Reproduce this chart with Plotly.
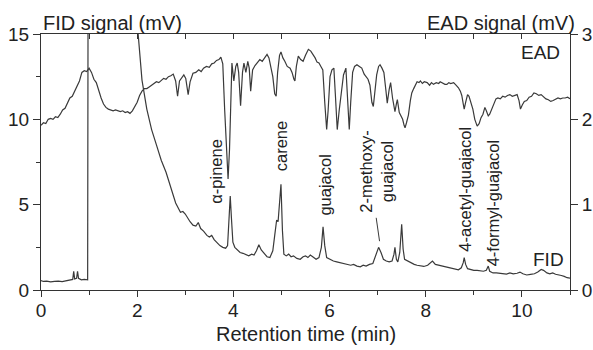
import plotly.graph_objects as go

# ---------------- data ----------------
fid_time = [0.00, 0.05, 0.12, 0.20, 0.28, 0.36, 0.44, 0.52, 0.60, 0.66, 0.68, 0.70, 0.74, 0.76, 0.78,
            0.84, 0.90, 0.97, 0.985, 1.5, 2.00, 2.02, 2.10, 2.20, 2.30, 2.40, 2.50, 2.60, 2.70, 2.80,
            2.90, 2.95, 3.00, 3.05, 3.10, 3.16, 3.22, 3.27, 3.32, 3.38, 3.45, 3.50, 3.55, 3.60, 3.66,
            3.72, 3.78, 3.84, 3.88, 3.91, 3.935, 3.96, 3.99, 4.03, 4.08, 4.14, 4.20, 4.26, 4.32, 4.38,
            4.43, 4.48, 4.53, 4.58, 4.63, 4.70, 4.76, 4.82, 4.86, 4.90, 4.93, 4.96, 4.99, 5.02, 5.05,
            5.10, 5.15, 5.20, 5.25, 5.32, 5.39, 5.45, 5.50, 5.55, 5.60, 5.65, 5.72, 5.78, 5.83, 5.865,
            5.90, 5.94, 6.00, 6.08, 6.15, 6.22, 6.30, 6.36, 6.44, 6.50, 6.57, 6.64, 6.70, 6.76, 6.83,
            6.90, 6.96, 7.02, 7.07, 7.12, 7.18, 7.24, 7.30, 7.34, 7.36, 7.39, 7.42, 7.46, 7.50, 7.53,
            7.56, 7.62, 7.70, 7.76, 7.82, 7.90, 7.96, 8.04, 8.10, 8.14, 8.20, 8.27, 8.34, 8.40, 8.48,
            8.55, 8.62, 8.68, 8.74, 8.78, 8.80, 8.83, 8.87, 8.93, 9.00, 9.07, 9.14, 9.20, 9.26, 9.30,
            9.33, 9.40, 9.47, 9.55, 9.62, 9.68, 9.75, 9.82, 9.90, 9.96, 10.02, 10.10, 10.18, 10.26,
            10.33, 10.40, 10.45, 10.52, 10.58, 10.64, 10.70, 10.76, 10.82, 10.88, 10.94, 11.00]
fid_signal = [0.55, 0.50, 0.52, 0.48, 0.50, 0.52, 0.49, 0.55, 0.58, 0.62, 1.10, 0.65, 0.68, 1.10, 0.68,
              0.60, 0.62, 0.60, 30.0, 30.0, 30.0, 15.0, 12.3, 10.6, 9.4, 8.5, 7.6, 6.9, 6.0, 5.1,
              4.55, 4.6, 4.45, 4.2, 4.0, 3.8, 3.75, 3.95, 3.6, 3.45, 3.2, 3.1, 3.2, 2.95, 2.75,
              2.6, 2.5, 2.45, 2.6, 4.3, 5.5, 4.2, 2.8, 2.5, 2.35, 2.2, 2.15, 2.05, 2.0, 2.1,
              2.05, 2.3, 2.65, 2.35, 2.2, 1.95, 1.9, 2.3, 3.2, 4.1, 4.0, 5.0, 6.2, 3.5, 2.1,
              2.0, 2.1, 1.95, 2.0, 1.85, 1.8, 1.95, 2.0, 1.9, 2.05, 1.95, 1.8, 1.9, 2.5, 3.7,
              2.6, 1.9, 1.8, 1.7, 1.65, 1.6, 1.55, 1.5, 1.45, 1.5, 1.4, 1.36, 1.45, 1.4, 1.5,
              1.55, 2.0, 2.5, 2.2, 1.8, 1.7, 1.65, 1.7, 2.1, 2.5, 1.8, 1.65, 2.2, 3.85, 2.4,
              1.8, 1.7, 1.55, 1.5, 1.45, 1.4, 1.38, 1.45, 1.6, 1.7, 1.5, 1.45, 1.38, 1.35, 1.3,
              1.25, 1.2, 1.18, 1.3, 1.6, 1.9, 1.5, 1.25, 1.2, 1.15, 1.15, 1.1, 1.1, 1.15, 1.4,
              1.1, 1.0, 1.0, 0.98, 0.95, 0.93, 1.0, 0.95, 0.98, 1.05, 0.95, 0.88, 0.92, 0.95,
              1.05, 1.2, 1.15, 1.0, 0.95, 1.0, 0.92, 0.9, 0.85, 0.8, 0.72, 0.70]

ead_time = [0.00, 0.05, 0.10, 0.15, 0.20, 0.25, 0.30, 0.35, 0.40, 0.45, 0.50, 0.55, 0.60, 0.65, 0.70,
            0.75, 0.80, 0.85, 0.90, 0.95, 1.00, 1.05, 1.10, 1.15, 1.20, 1.25, 1.30, 1.35, 1.40, 1.45,
            1.50, 1.55, 1.60, 1.65, 1.70, 1.75, 1.80, 1.85, 1.90, 1.95, 2.00, 2.05, 2.10, 2.15, 2.20,
            2.25, 2.30, 2.35, 2.40, 2.45, 2.50, 2.55, 2.60, 2.65, 2.70, 2.75, 2.80, 2.84, 2.88, 2.92,
            2.97, 3.01, 3.06, 3.10, 3.16, 3.22, 3.28, 3.33, 3.38, 3.44, 3.50, 3.55, 3.60, 3.65, 3.70,
            3.74, 3.78, 3.82, 3.86, 3.89, 3.92, 3.95, 3.97, 4.01, 4.05, 4.08, 4.11, 4.15, 4.19, 4.22,
            4.26, 4.30, 4.33, 4.36, 4.40, 4.45, 4.50, 4.55, 4.60, 4.65, 4.70, 4.74, 4.78, 4.82, 4.86,
            4.89, 4.92, 4.96, 4.99, 5.03, 5.07, 5.12, 5.18, 5.22, 5.26, 5.28, 5.31, 5.35, 5.40, 5.45,
            5.50, 5.56, 5.61, 5.66, 5.70, 5.74, 5.78, 5.82, 5.86, 5.90, 5.94, 5.97, 6.01, 6.05, 6.09,
            6.12, 6.16, 6.20, 6.25, 6.29, 6.34, 6.37, 6.41, 6.44, 6.48, 6.52, 6.57, 6.62, 6.67, 6.72,
            6.76, 6.80, 6.84, 6.88, 6.91, 6.95, 6.98, 7.02, 7.05, 7.09, 7.13, 7.17, 7.20, 7.24, 7.27,
            7.31, 7.36, 7.39, 7.41, 7.45, 7.48, 7.52, 7.55, 7.57, 7.60, 7.64, 7.68, 7.71, 7.75, 7.78,
            7.82, 7.86, 7.89, 7.93, 7.97, 8.03, 8.08, 8.12, 8.16, 8.22, 8.27, 8.30, 8.35, 8.40, 8.44,
            8.48, 8.52, 8.58, 8.63, 8.68, 8.72, 8.75, 8.78, 8.80, 8.83, 8.87, 8.90, 8.94, 8.98, 9.02,
            9.07, 9.11, 9.15, 9.19, 9.23, 9.26, 9.30, 9.33, 9.37, 9.42, 9.46, 9.50, 9.55, 9.60, 9.65,
            9.70, 9.75, 9.80, 9.85, 9.90, 9.94, 9.97, 10.01, 10.05, 10.10, 10.15, 10.20, 10.25, 10.30,
            10.35, 10.40, 10.45, 10.50, 10.55, 10.60, 10.65, 10.70, 10.75, 10.80, 10.85, 10.90, 10.95,
            11.00]
ead_signal = [1.93, 1.96, 1.95, 2.00, 2.01, 2.00, 2.03, 2.02, 2.06, 2.11, 2.13, 2.20, 2.25, 2.27, 2.33,
              2.38, 2.45, 2.55, 2.57, 2.56, 2.60, 2.55, 2.47, 2.43, 2.33, 2.25, 2.18, 2.14, 2.12, 2.11,
              2.10, 2.11, 2.10, 2.09, 2.10, 2.08, 2.09, 2.07, 2.10, 2.15, 2.20, 2.28, 2.33, 2.36, 2.36,
              2.38, 2.40, 2.41, 2.44, 2.43, 2.46, 2.48, 2.47, 2.50, 2.51, 2.53, 2.45, 2.27, 2.45, 2.48,
              2.52, 2.48, 2.29, 2.44, 2.54, 2.55, 2.58, 2.56, 2.60, 2.62, 2.61, 2.65, 2.66, 2.69, 2.70,
              2.73, 2.65, 2.10, 1.55, 1.30, 1.65, 2.40, 2.66, 2.45, 2.62, 2.66, 2.55, 2.16, 2.55, 2.66,
              2.55, 2.68, 2.60, 2.33, 2.58, 2.63, 2.66, 2.70, 2.68, 2.72, 2.76, 2.72, 2.62, 2.50, 2.30,
              2.27, 2.55, 2.75, 2.79, 2.72, 2.68, 2.62, 2.60, 2.55, 2.47, 2.45, 2.62, 2.74, 2.70, 2.68,
              2.75, 2.82, 2.80, 2.76, 2.72, 2.67, 2.66, 2.62, 2.58, 2.20, 1.88, 2.10, 2.50, 2.58, 2.60,
              2.30, 1.88, 2.10, 2.31, 2.52, 2.60, 2.30, 1.88, 2.20, 2.55, 2.62, 2.64, 2.62, 2.60, 2.53,
              2.50, 2.47, 2.40, 2.20, 2.15, 2.40, 2.52, 2.62, 2.64, 2.60, 2.55, 2.35, 2.19, 2.35, 2.43,
              2.25, 2.09, 2.18, 2.23, 2.08, 2.04, 2.00, 1.93, 1.90, 1.96, 2.05, 2.22, 2.31, 2.36, 2.40,
              2.44, 2.43, 2.45, 2.42, 2.44, 2.43, 2.40, 2.43, 2.41, 2.43, 2.42, 2.44, 2.42, 2.41, 2.41,
              2.43, 2.42, 2.43, 2.40, 2.37, 2.33, 2.28, 2.18, 2.12, 2.20, 2.29, 2.27, 2.20, 2.12, 2.00,
              1.92, 1.95, 2.02, 2.06, 2.14, 2.10, 2.04, 2.06, 2.11, 2.18, 2.24, 2.25, 2.24, 2.27, 2.26,
              2.28, 2.29, 2.27, 2.28, 2.29, 2.22, 2.12, 2.17, 2.21, 2.22, 2.26, 2.27, 2.31, 2.30,
              2.28, 2.29, 2.26, 2.24, 2.23, 2.21, 2.22, 2.24, 2.25, 2.24, 2.25, 2.25, 2.26,
              2.24]

# compound labels: (text, retention time, FID-scale height of label centre)
compound_names = ["α-pinene", "carene", "guajacol", "2-methoxy-<br>guajacol",
                  "4-acetyl-guajacol", "4-formyl-guajacol"]
compound_x = [3.65, 4.99, 5.91, 6.97, 8.82, 9.39]
compound_y = [6.96, 8.42, 6.13, 6.94, 5.89, 5.11]
leader_x = [6.97, 7.04]
leader_y = [4.23, 2.86]

x_ticks = [0, 2, 4, 6, 8, 10]
fid_ticks = [0, 5, 10, 15]
ead_ticks = [0, 1, 2, 3]

# ---------------- figure ----------------
FONT = "Liberation Sans, Arial, sans-serif"
INK = "#222222"
LINE = "#3a3a3a"

fig = go.Figure()
fig.add_trace(go.Scatter(x=fid_time, y=fid_signal, mode="lines",
                         line=dict(color=LINE, width=1.2), xaxis="x", yaxis="y",
                         showlegend=False, hoverinfo="skip"))
fig.add_trace(go.Scatter(x=ead_time, y=ead_signal, mode="lines",
                         line=dict(color=LINE, width=1.2), xaxis="x2", yaxis="y2",
                         showlegend=False, hoverinfo="skip"))

axis_common = dict(showgrid=False, zeroline=False, showline=True, linecolor="#333333",
                   linewidth=1, tickcolor="#333333", tickwidth=1, automargin=False,
                   tickfont=dict(family=FONT, size=19, color=INK))

fig.update_layout(
    width=593, height=350,
    margin=dict(l=41, r=23, t=34, b=60),
    paper_bgcolor="white", plot_bgcolor="white",
    font=dict(family=FONT, color=INK),
    xaxis=dict(range=[0, 11], tickvals=x_ticks, ticks="outside", ticklen=6,
               ticklabelstandoff=-3,
               minor=dict(dtick=1, ticks="outside", ticklen=4, tickcolor="#333333"),
               **axis_common),
    xaxis2=dict(range=[0, 11], overlaying="x", side="top", anchor="y",
                tickvals=list(range(0, 12)), ticks="inside", ticklen=5,
                showticklabels=False, **axis_common),
    yaxis=dict(range=[0, 15], tickvals=fid_ticks, ticks="outside", ticklen=7,
               minor=dict(dtick=2.5, ticks="outside", ticklen=4, tickcolor="#333333"),
               **axis_common),
    yaxis2=dict(range=[0, 3], tickvals=ead_ticks, overlaying="y", side="right",
                anchor="x", ticks="outside", ticklen=7, **axis_common),
)

ann = []
ann.append(dict(text="FID signal (mV)", xref="paper", yref="paper", x=0.0, y=1.043,
                xanchor="left", yanchor="middle", showarrow=False,
                font=dict(family=FONT, size=20, color=INK)))
ann.append(dict(text="EAD signal (mV)", xref="paper", yref="paper", x=1.0132, y=1.043,
                xanchor="right", yanchor="middle", showarrow=False,
                font=dict(family=FONT, size=20, color=INK)))
ann.append(dict(text="Retention time (min)", xref="paper", yref="paper", x=0.5, y=-0.172,
                xanchor="center", yanchor="middle", showarrow=False,
                font=dict(family=FONT, size=20, color=INK)))
ann.append(dict(text="EAD", xref="paper", yref="paper", x=0.984, y=0.926,
                xanchor="right", yanchor="middle", showarrow=False,
                font=dict(family=FONT, size=19, color=INK)))
ann.append(dict(text="FID", xref="paper", yref="paper", x=0.992, y=0.12,
                xanchor="right", yanchor="middle", showarrow=False,
                font=dict(family=FONT, size=19, color=INK)))
for name, cx, cy in zip(compound_names, compound_x, compound_y):
    ann.append(dict(text=name, xref="x", yref="y", x=cx, y=cy, textangle=-90,
                    xanchor="center", yanchor="middle", showarrow=False, align="center",
                    font=dict(family=FONT, size=16.5, color=INK)))
fig.update_layout(annotations=ann)

fig.add_shape(type="line", xref="x", yref="y", x0=leader_x[0], y0=leader_y[0],
              x1=leader_x[1], y1=leader_y[1], line=dict(color=LINE, width=1))

fig.write_html("out.html", config={"displayModeBar": False},
               post_script="document.body.style.margin='0';document.body.style.padding='0';")
